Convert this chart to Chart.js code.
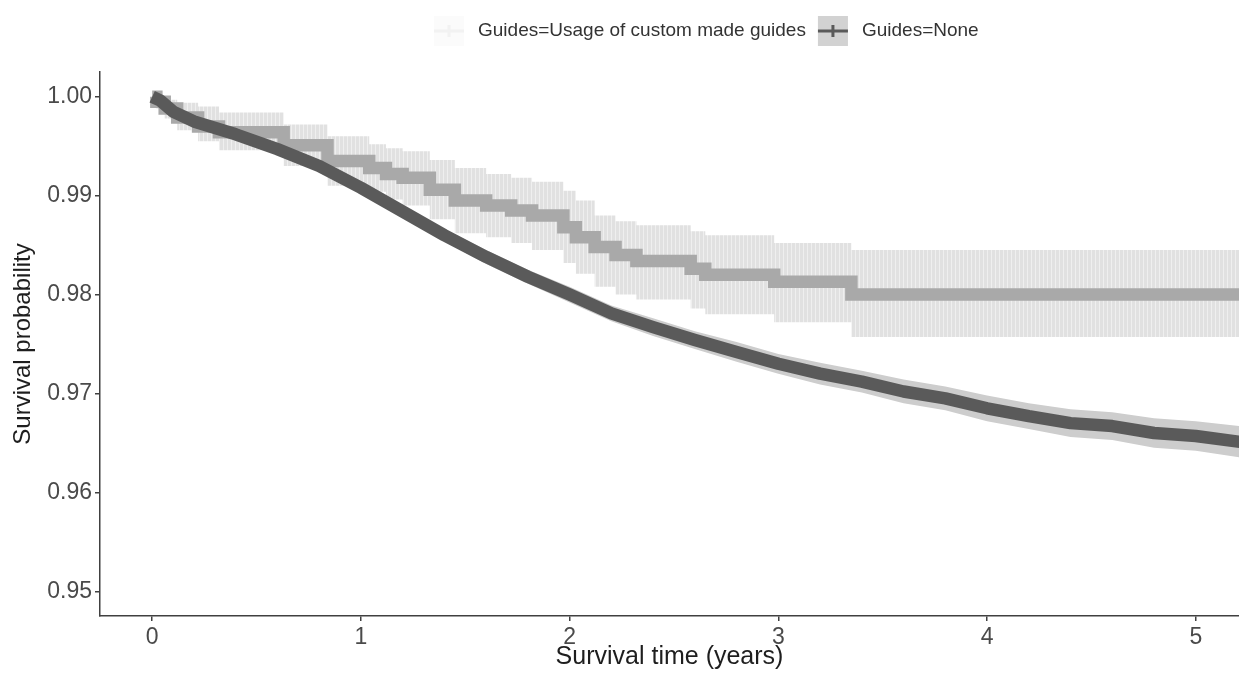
<!DOCTYPE html>
<html>
<head>
<meta charset="utf-8">
<title>Survival by guide usage</title>
<script src="https://cdn.jsdelivr.net/npm/chart.js@4/dist/chart.umd.min.js"></script>
<style>
  html, body { margin: 0; padding: 0; background: #ffffff; overflow: hidden; }
  #wrap { width: 1239px; height: 675px; position: relative; }
</style>
</head>
<body>
<div id="wrap"><canvas id="km" width="1239" height="675"></canvas></div>
<script>
// Kaplan-Meier estimates (years, survival probability) with 95% confidence limits

// Group: Guides=None (smooth-looking curve, many events)
const noneTimes = [0, 0.04, 0.1, 0.2, 0.4, 0.6, 0.8, 1.0, 1.2, 1.4, 1.6, 1.8, 2.0, 2.2, 2.4, 2.6, 2.8, 3.0, 3.2, 3.4, 3.6, 3.8, 4.0, 4.2, 4.4, 4.6, 4.8, 5.0, 5.25];
const noneSurv  = [1.0000, 0.9996, 0.9985, 0.9975, 0.9962, 0.9947, 0.9930, 0.9908, 0.9884, 0.9860, 0.9838, 0.9818, 0.9800, 0.9781, 0.9767, 0.9754, 0.9742, 0.9730, 0.9720, 0.9712, 0.9702, 0.9695, 0.9685, 0.9677, 0.9670, 0.9667, 0.9660, 0.9657, 0.9650];
const noneUpper = [1.0000, 0.9997, 0.9987, 0.9978, 0.9966, 0.9951, 0.9935, 0.9913, 0.9890, 0.9866, 0.9845, 0.9825, 0.9808, 0.9789, 0.9776, 0.9763, 0.9752, 0.9740, 0.9731, 0.9723, 0.9714, 0.9707, 0.9698, 0.9690, 0.9684, 0.9681, 0.9675, 0.9672, 0.9666];
const noneLower = [1.0000, 0.9995, 0.9983, 0.9972, 0.9958, 0.9943, 0.9925, 0.9903, 0.9878, 0.9854, 0.9831, 0.9811, 0.9792, 0.9773, 0.9758, 0.9745, 0.9732, 0.9720, 0.9709, 0.9701, 0.9690, 0.9683, 0.9672, 0.9664, 0.9656, 0.9653, 0.9645, 0.9642, 0.9634];

// Group: Guides=Usage of custom made guides (step function, fewer events)
const guideTimes = [0, 0.02, 0.06, 0.12, 0.22, 0.32, 0.63, 0.84, 1.04, 1.12, 1.2, 1.33, 1.45, 1.6, 1.72, 1.82, 1.97, 2.03, 2.12, 2.22, 2.32, 2.58, 2.65, 2.98, 3.35, 5.25];
const guideSurv  = [1.0000, 0.9995, 0.9988, 0.9979, 0.9970, 0.9964, 0.9951, 0.9935, 0.9928, 0.9922, 0.9918, 0.9906, 0.9895, 0.9890, 0.9885, 0.9880, 0.9868, 0.9858, 0.9848, 0.9840, 0.9834, 0.9826, 0.9820, 0.9813, 0.9800, 0.9800];
const guideUpper = [1.0000, 0.9999, 0.9997, 0.9994, 0.9990, 0.9984, 0.9972, 0.9960, 0.9952, 0.9948, 0.9945, 0.9936, 0.9928, 0.9922, 0.9918, 0.9914, 0.9905, 0.9895, 0.9880, 0.9874, 0.9870, 0.9864, 0.9860, 0.9852, 0.9845, 0.9845];
const guideLower = [1.0000, 0.9988, 0.9978, 0.9966, 0.9955, 0.9946, 0.9930, 0.9910, 0.9904, 0.9896, 0.9890, 0.9876, 0.9862, 0.9858, 0.9852, 0.9845, 0.9832, 0.9821, 0.9808, 0.9800, 0.9795, 0.9786, 0.9780, 0.9772, 0.9757, 0.9757];

// Axis ticks
const xTicks = [0, 1, 2, 3, 4, 5];
const yTicks = [0.95, 0.96, 0.97, 0.98, 0.99, 1.00];

const legendLabels = ['Guides=Usage of custom made guides', 'Guides=None'];

const FONT = '"Liberation Sans", Arial, Helvetica, sans-serif';
const AXIS = '#404040';
const NONE_LINE = '#5a5a5a';
const NONE_BAND = '#cdcdcd';
const GUIDE_LINE = '#a9a9a9';

const pts = (xs, ys) => xs.map((x, i) => ({ x: x, y: ys[i] }));

Chart.defaults.font.family = FONT;

// Fine vertical hatching for the wide confidence band
function bandPattern() {
  const c = document.createElement('canvas');
  c.width = 4; c.height = 4;
  const g = c.getContext('2d');
  g.fillStyle = '#e1e1e1';
  g.fillRect(0, 0, 4, 4);
  g.fillStyle = '#efefef';
  g.fillRect(3, 0, 1, 4);
  return g.createPattern(c, 'repeat');
}

// Legend row above the panel: key box with line and censor cross, then label
const kmLegend = {
  id: 'kmLegend',
  afterDraw(chart) {
    const ctx = chart.ctx;
    const cy = 31;
    const keys = [
      { fill: '#fbfbfb', line: '#f2f2f2' },
      { fill: '#d2d2d2', line: NONE_LINE }
    ];
    ctx.save();
    ctx.font = '19px ' + FONT;
    ctx.textBaseline = 'middle';
    ctx.textAlign = 'left';
    let x = 434;
    legendLabels.forEach((label, i) => {
      const k = keys[i];
      ctx.fillStyle = k.fill;
      ctx.fillRect(x, cy - 15, 30, 30);
      ctx.strokeStyle = k.line;
      ctx.lineWidth = 3;
      ctx.beginPath();
      ctx.moveTo(x, cy);
      ctx.lineTo(x + 30, cy);
      ctx.moveTo(x + 15, cy - 6);
      ctx.lineTo(x + 15, cy + 6);
      ctx.stroke();
      x += 30 + 14;
      ctx.fillStyle = '#333333';
      ctx.fillText(label, x, cy);
      x += ctx.measureText(label).width + 12;
    });
    ctx.restore();
  }
};

new Chart(document.getElementById('km'), {
  type: 'line',
  data: {
    datasets: [
      // 0: None - survival line (top-most)
      { label: 'Guides=None', data: pts(noneTimes, noneSurv), borderColor: NONE_LINE, borderWidth: 12.5,
        fill: false, order: 0, borderCapStyle: 'butt', borderJoinStyle: 'round' },
      // 1: Guides - survival step line
      { label: 'Guides=Usage of custom made guides', data: pts(guideTimes, guideSurv), borderColor: GUIDE_LINE, borderWidth: 12.5,
        stepped: true, fill: false, order: 1, borderCapStyle: 'butt', borderJoinStyle: 'miter' },
      // 2-3: None - confidence band
      { label: 'None upper', data: pts(noneTimes, noneUpper), borderWidth: 0, borderColor: 'rgba(0,0,0,0)',
        backgroundColor: NONE_BAND, fill: '+1', order: 2 },
      { label: 'None lower', data: pts(noneTimes, noneLower), borderWidth: 0, borderColor: 'rgba(0,0,0,0)',
        fill: false, order: 2 },
      // 4-5: Guides - confidence band
      { label: 'Guides upper', data: pts(guideTimes, guideUpper), borderWidth: 0, borderColor: 'rgba(0,0,0,0)',
        backgroundColor: bandPattern(), fill: '+1', stepped: true, order: 3 },
      { label: 'Guides lower', data: pts(guideTimes, guideLower), borderWidth: 0, borderColor: 'rgba(0,0,0,0)',
        fill: false, stepped: true, order: 3 }
    ]
  },
  options: {
    responsive: false,
    animation: false,
    devicePixelRatio: 1,
    layout: { padding: { top: 72, left: 0, right: 0, bottom: 0 } },
    elements: { point: { radius: 0, hoverRadius: 0 }, line: { tension: 0 } },
    plugins: { legend: { display: false }, tooltip: { enabled: false } },
    events: [],
    scales: {
      x: {
        type: 'linear',
        min: -0.25,
        max: 5.207,
        afterBuildTicks: s => { s.ticks = xTicks.map(v => ({ value: v })); },
        afterFit: s => { s.height = 59; },
        border: { display: true, color: AXIS, width: 1.5 },
        grid: { display: true, drawOnChartArea: false, drawTicks: true, tickLength: 5, color: AXIS, lineWidth: 1.5 },
        ticks: { font: { size: 23 }, color: '#4a4a4a', padding: 3, maxRotation: 0, autoSkip: false,
                 callback: v => String(v) },
        title: { display: true, text: 'Survival time (years)', font: { size: 25 }, color: '#1e1e1e',
                 padding: { top: 0, bottom: 3 } }
      },
      y: {
        type: 'linear',
        min: 0.9475,
        max: 1.0025,
        afterBuildTicks: s => { s.ticks = yTicks.map(v => ({ value: v })); },
        afterFit: s => { s.width = 100; },
        border: { display: true, color: AXIS, width: 1.5 },
        grid: { display: true, drawOnChartArea: false, drawTicks: true, tickLength: 5, color: AXIS, lineWidth: 1.5 },
        ticks: { font: { size: 23 }, color: '#4a4a4a', padding: 3, autoSkip: false,
                 callback: v => Number(v).toFixed(2) },
        title: { display: true, text: 'Survival probability', font: { size: 24 }, color: '#1e1e1e',
                 padding: { top: 9, bottom: 0 } }
      }
    }
  },
  plugins: [kmLegend]
});
</script>
</body>
</html>
